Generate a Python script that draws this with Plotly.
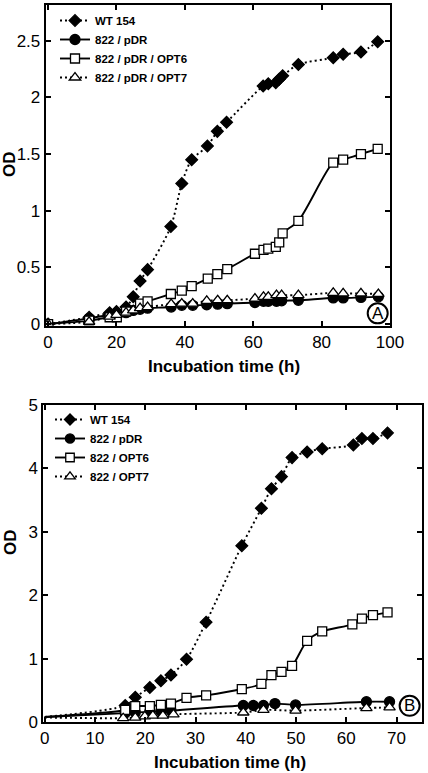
import plotly.graph_objects as go

# ---------------- Panel A data ----------------
wt_a_x = [0, 12, 18, 20, 22.8, 24.9, 26.9, 29.1, 35.9, 39.1, 42.0, 46.6, 49.5, 52.2,
          62.9, 64.4, 66.6, 67.6, 68.6, 73.2, 83.4, 86.3, 91.5, 96.4]
wt_a_y = [0, 0.06, 0.10, 0.11, 0.15, 0.24, 0.38, 0.48, 0.86, 1.24, 1.45, 1.57, 1.70, 1.78,
          2.10, 2.12, 2.13, 2.16, 2.19, 2.29, 2.35, 2.38, 2.40, 2.49]

pdr_a_x = [0, 12, 18, 20, 22.8, 24.9, 26.9, 29.1, 36.0, 39.1, 42.3, 46.4, 49.6, 52.4,
           60.5, 63.0, 64.4, 66.8, 68.3, 73.2, 83.4, 86.3, 91.5, 96.6]
pdr_a_y = [0, 0.05, 0.08, 0.09, 0.10, 0.12, 0.13, 0.14, 0.15, 0.165, 0.165, 0.17, 0.175, 0.18,
           0.19, 0.20, 0.20, 0.20, 0.205, 0.21, 0.23, 0.23, 0.235, 0.24]

opt6_a_x = [0, 12, 18, 20.1, 22.8, 26.9, 29.1, 35.9, 39.1, 42.0, 46.7, 49.5, 52.4,
            60.5, 63.0, 64.4, 66.6, 67.6, 68.6, 73.2, 83.4, 86.3, 91.5, 96.4]
opt6_a_y = [0, 0.03, 0.06, 0.06, 0.11, 0.18, 0.20, 0.265, 0.295, 0.335, 0.40, 0.44, 0.485,
            0.62, 0.655, 0.665, 0.68, 0.72, 0.80, 0.91, 1.425, 1.45, 1.50, 1.545]

opt7_a_x = [0, 12, 18, 20, 22.8, 24.9, 26.9, 29.1, 36.0, 39.1, 42.3, 46.4, 49.6, 52.4,
            60.5, 63.0, 64.4, 66.8, 68.3, 73.2, 83.4, 86.3, 91.5, 96.6]
opt7_a_y = [0, 0.02, 0.065, 0.08, 0.10, 0.12, 0.14, 0.15, 0.175, 0.18, 0.18, 0.205, 0.21, 0.21,
            0.225, 0.24, 0.24, 0.255, 0.255, 0.255, 0.275, 0.27, 0.27, 0.265]

labels_a = ["WT 154", "822 / pDR", "822 / pDR / OPT6", "822 / pDR / OPT7"]
xticks_a = [0, 20, 40, 60, 80, 100]
yticks_a = [0, 0.5, 1, 1.5, 2, 2.5]

# ---------------- Panel B data ----------------
wt_b_x = [0, 16.0, 18.0, 20.9, 23.1, 25.1, 28.2, 32.1, 39.2, 43.1, 45.1, 47.1, 49.2,
          52.2, 55.2, 61.4, 63.1, 65.3, 68.2]
wt_b_y = [0.08, 0.26, 0.39, 0.545, 0.65, 0.74, 0.99, 1.575, 2.78, 3.37, 3.68, 3.87, 4.17,
          4.26, 4.31, 4.37, 4.47, 4.47, 4.56]

pdr_b_x = [0, 16.0, 18.0, 20.9, 23.1, 25.1, 39.5, 41.5, 43.5, 45.8, 49.9, 64.0, 68.6]
pdr_b_y = [0.08, 0.14, 0.15, 0.16, 0.17, 0.18, 0.26, 0.26, 0.26, 0.29, 0.27, 0.32, 0.32]

opt6_b_x = [0, 16.0, 18.0, 20.9, 23.1, 25.1, 28.2, 32.1, 39.2, 43.1, 45.1, 47.1, 49.2,
            52.2, 55.2, 61.2, 63.1, 65.3, 68.2]
opt6_b_y = [0.08, 0.19, 0.25, 0.25, 0.27, 0.29, 0.38, 0.42, 0.52, 0.60, 0.74, 0.79, 0.885,
            1.28, 1.43, 1.54, 1.63, 1.685, 1.73]

opt7_b_x = [0, 15.6, 18.0, 19.9, 21.5, 23.5, 25.6, 39.5, 43.5, 49.9, 64.0, 68.6]
opt7_b_y = [0.07, 0.06, 0.07, 0.09, 0.10, 0.10, 0.12, 0.15, 0.19, 0.18, 0.22, 0.23]

labels_b = ["WT 154", "822 / pDR", "822 / OPT6", "822 / OPT7"]
xticks_b = [0, 10, 20, 30, 40, 50, 60, 70]
yticks_b = [0, 1, 2, 3, 4, 5]

FONT = "Liberation Sans, Arial, sans-serif"
BLACK = "black"

styles = [
    dict(symbol="diamond", size=9, dash="2px,3px", fill=BLACK),
    dict(symbol="circle", size=10, dash="solid", fill=BLACK),
    dict(symbol="square", size=9, dash="solid", fill="white"),
    dict(symbol="triangle-up", size=10, dash="2px,3px", fill="white"),
]

fig = go.Figure()


def add_series(xs, ys, name, st, xa, ya, legend, hide_zero=False):
    sizes = [0 if (hide_zero and x == 0) else st["size"] for x in xs]
    fig.add_trace(go.Scatter(
        x=xs, y=ys, name="<b>" + name + "</b>", mode="lines+markers",
        xaxis=xa, yaxis=ya, legend=legend,
        line=dict(color=BLACK, width=1.9, dash=st["dash"], shape="spline", smoothing=0.8),
        marker=dict(symbol=st["symbol"], size=sizes, color=st["fill"], opacity=1,
                    line=dict(color=BLACK, width=1.3)),
    ))


series_a = [(wt_a_x, wt_a_y), (pdr_a_x, pdr_a_y), (opt6_a_x, opt6_a_y), (opt7_a_x, opt7_a_y)]
for (xs, ys), name, st in zip(series_a, labels_a, styles):
    add_series(xs, ys, name, st, "x", "y", "legend")

series_b = [(wt_b_x, wt_b_y), (pdr_b_x, pdr_b_y), (opt6_b_x, opt6_b_y), (opt7_b_x, opt7_b_y)]
for (xs, ys), name, st in zip(series_b, labels_b, styles):
    add_series(xs, ys, name, st, "x2", "y2", "legend2", hide_zero=True)

W, H = 428, 773

axis_common = dict(showline=True, linewidth=2, linecolor=BLACK, mirror="ticks",
                   ticks="inside", ticklen=5, tickwidth=1.5, tickcolor=BLACK,
                   showgrid=False, zeroline=False, automargin=False,
                   tickfont=dict(family=FONT, size=17, color=BLACK))

fig.update_layout(
    width=W, height=H,
    margin=dict(l=0, r=0, t=0, b=0, autoexpand=False),
    paper_bgcolor="white", plot_bgcolor="white",
    font=dict(family=FONT, color=BLACK),
    hovermode=False,
    xaxis=dict(axis_common, domain=[45.7 / W, 390 / W], range=[-0.7, 100],
               tickvals=xticks_a, anchor="y"),
    yaxis=dict(axis_common, domain=[1 - 325.5 / H, 1 - 5 / H], range=[-0.013, 2.815],
               tickvals=yticks_a, anchor="x"),
    xaxis2=dict(axis_common, domain=[43.3 / W, 421.7 / W], range=[-0.3, 75],
                tickvals=xticks_b, anchor="y2"),
    yaxis2=dict(axis_common, domain=[1 - 722 / H, 1 - 405 / H], range=[0, 5],
                tickvals=yticks_b, anchor="x2"),
    legend=dict(x=55 / W, y=1 - 6 / H, xanchor="left", yanchor="top",
                bgcolor="rgba(0,0,0,0)", font=dict(family=FONT, size=11.5, color=BLACK),
                itemwidth=30, tracegroupgap=0),
    legend2=dict(x=50 / W, y=1 - 405 / H, xanchor="left", yanchor="top",
                 bgcolor="rgba(0,0,0,0)", font=dict(family=FONT, size=11.5, color=BLACK),
                 itemwidth=30, tracegroupgap=0),
    showlegend=True,
)

title_font = dict(family=FONT, size=17, color=BLACK)
annotations = [
    dict(text="<b>Incubation time (h)</b>", x=223.7 / W, y=1 - 366.7 / H, xref="paper", yref="paper",
         showarrow=False, font=title_font, xanchor="center", yanchor="middle"),
    dict(text="<b>Incubation time (h)</b>", x=230.5 / W, y=1 - 762.7 / H, xref="paper", yref="paper",
         showarrow=False, font=title_font, xanchor="center", yanchor="middle"),
    dict(text="<b>OD</b>", x=10 / W, y=1 - 164 / H, xref="paper", yref="paper", textangle=-90,
         showarrow=False, font=title_font, xanchor="center", yanchor="middle"),
    dict(text="<b>OD</b>", x=10 / W, y=1 - 542 / H, xref="paper", yref="paper", textangle=-90,
         showarrow=False, font=title_font, xanchor="center", yanchor="middle"),
    dict(text="A", x=96.4, y=0.094, xref="x", yref="y", showarrow=False,
         font=dict(family=FONT, size=17, color=BLACK), xanchor="center", yanchor="middle"),
    dict(text="B", x=72.6, y=0.256, xref="x2", yref="y2", showarrow=False,
         font=dict(family=FONT, size=17, color=BLACK), xanchor="center", yanchor="middle"),
]
fig.update_layout(annotations=annotations)

shapes = [
    dict(type="circle", xref="x", yref="y", xsizemode="pixel", ysizemode="pixel",
         xanchor=96.4, yanchor=0.094, x0=-10, x1=10, y0=-10, y1=10,
         line=dict(color=BLACK, width=2)),
    dict(type="circle", xref="x2", yref="y2", xsizemode="pixel", ysizemode="pixel",
         xanchor=72.6, yanchor=0.256, x0=-10, x1=10, y0=-10, y1=10,
         line=dict(color=BLACK, width=2)),
]
fig.update_layout(shapes=shapes)

fig.write_html("out.html",
               config={"displayModeBar": False},
               post_script="document.body.style.margin='0';document.body.style.overflow='hidden';")
